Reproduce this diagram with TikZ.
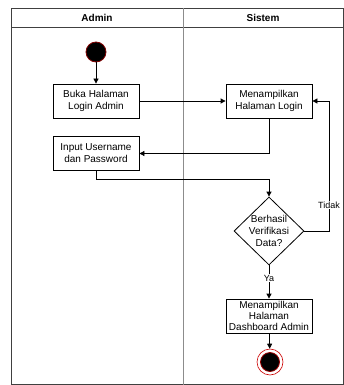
\documentclass[tikz,border=0pt]{standalone}
\usepackage{fontspec}
\setmainfont{Liberation Sans}
\usetikzlibrary{shapes.geometric, arrows.meta, positioning}

\tikzset{
	act/.style={draw, inner sep=0pt, minimum width=86pt, minimum height=34pt, align=center, font=\fontsize{10}{12}\selectfont},
	decision/.style={draw, diamond, inner sep=0pt, minimum width=70pt, minimum height=68pt},
	arr/.style={-{Triangle[length=5pt,width=5pt]}, line width=0.8pt},
	lbl/.style={fill=white, inner sep=1pt, font=\fontsize{9}{11}\selectfont},
	lane/.style={font=\bfseries\fontsize{10}{12}\selectfont}
}

\begin{document}
\begin{tikzpicture}[x=1pt, y=-1pt, line width=0.8pt]
		\useasboundingbox (0,0) rectangle (344,385);
		% swimlanes
		\draw[black!75] (11,8) rectangle (343.5,384.5);
		\draw[black!75] (11,27) -- (343.5,27);
		\draw[black!45] (183,8) -- (183,384.5);
		\node[lane] (admin) at (97,17.5) {Admin};
		\node[lane] (sistem) at (263,17.5) {Sistem};

		\node[circle, fill=black, draw=red!50!black, minimum size=20pt, inner sep=0pt] (start) at (96,52) {};
		\node[act] (b1) at (96,101) {Buka Halaman\\Login Admin};
		\node[act] (b2) at (269,101) {Menampilkan\\Halaman Login};
		\node[act] (b3) at (96,153.5) {Input Username\\dan Password};
		\node[decision] (dec) at (269,231) {};
		\node[align=center, inner sep=0pt, font=\fontsize{10}{12}\selectfont] (dectxt) at (dec.center) {Berhasil\\Verifikasi\\Data?};
		\node[act, font=\fontsize{10}{10.8}\selectfont] (b4) at (269,316) {Menampilkan\\Halaman\\Dashboard Admin};
		\node[circle, draw=red!80!black, fill=white, line width=0.6pt, minimum size=26pt, inner sep=0pt] (end) at (270,362) {};
		\node[circle, fill=black, draw=red!60!black, minimum size=19pt, inner sep=0pt] (endin) at (end.center) {};
		\coordinate (loop) at (329,101);

		\draw[arr] (start) -- (b1);
		\draw[arr] (b1) -- (b2);
		\draw[arr] (b2) |- (b3);
		\draw[arr] (b3.south) -- ++(0,8) -| (dec.north);
		\draw[arr] (dec.east) -| (loop) node[lbl, pos=0.6] (tidak) {Tidak} -- (b2.east);
		\draw[arr] (dec.south) -- (b4) node[lbl, pos=0.38] (ya) {Ya};
		\draw[arr] (b4) -- (end);
	\end{tikzpicture}
\end{document}
